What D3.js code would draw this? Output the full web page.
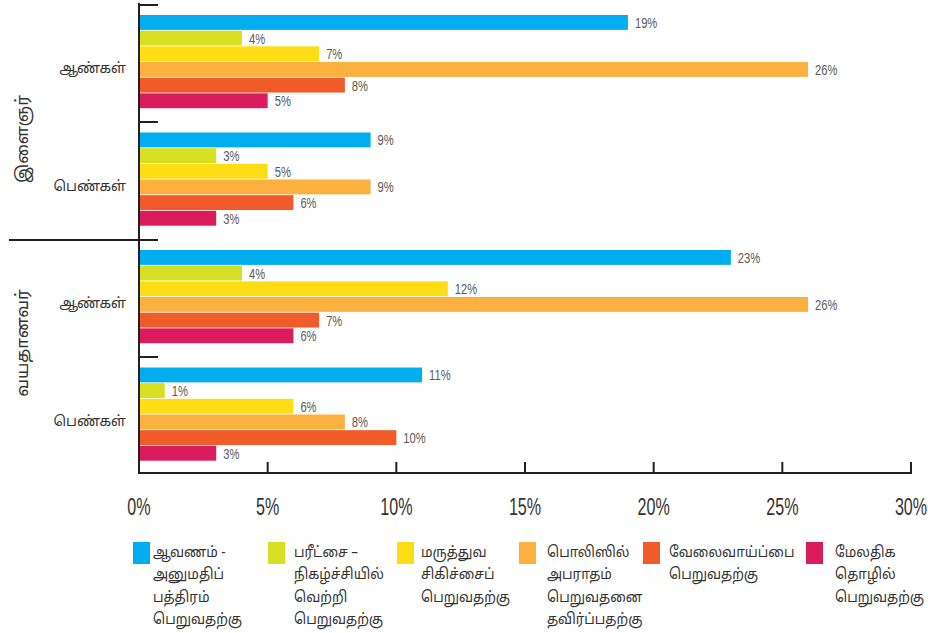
<!DOCTYPE html>
<meta charset="utf-8">
<style>
html, body { margin: 0; padding: 0; background: #fff; }
svg { display: block; }
.tamil { font-family: "Noto Sans Tamil", "Lohit Tamil", "Noto Sans", sans-serif; fill: #333; }
.num { font-family: "Liberation Sans", Arial, sans-serif; }
</style>
<svg id="chart" width="928" height="633"></svg>
<script src="https://cdn.jsdelivr.net/npm/d3@7/dist/d3.min.js"></script>
<script>
// ---- data ----
var groups = ["இளைஞர்", "வயதானவர்"];
var subgroups = ["ஆண்கள்", "பெண்கள்"];
var series = ["document", "exam", "medical", "police", "job", "extra"];
var seriesLabels = [
  ["ஆவணம் -", "அனுமதிப்", "பத்திரம்", "பெறுவதற்கு"],
  ["பரீட்சை –", "நிகழ்ச்சியில்", "வெற்றி", "பெறுவதற்கு"],
  ["மருத்துவ", "சிகிச்சைப்", "பெறுவதற்கு"],
  ["பொலிஸில்", "அபராதம்", "பெறுவதனை", "தவிர்ப்பதற்கு"],
  ["வேலைவாய்ப்பை", "பெறுவதற்கு"],
  ["மேலதிக", "தொழில்", "பெறுவதற்கு"]
];
var colors = ["#00aeef", "#d7df23", "#ffdd15", "#fbb040", "#f15a29", "#da1c5c"];
// values in %, one row per group/subgroup
var youngMen   = [19, 4, 7, 26, 8, 5];
var youngWomen = [9, 3, 5, 9, 6, 3];
var oldMen     = [23, 4, 12, 26, 7, 6];
var oldWomen   = [11, 1, 6, 8, 10, 3];
var xTicks = [0, 5, 10, 15, 20, 25, 30];

var rows = [
  { key: "g0s0", group: 0, sub: 0, values: youngMen },
  { key: "g0s1", group: 0, sub: 1, values: youngWomen },
  { key: "g1s0", group: 1, sub: 0, values: oldMen },
  { key: "g1s1", group: 1, sub: 1, values: oldWomen }
];

// ---- layout ----
var svg = d3.select("#chart");
var x = d3.scaleLinear().domain([0, 30]).range([139, 911]);
var y = d3.scaleBand().domain(rows.map(function (d) { return d.key; })).range([4.5, 474.5]);
var yInner = d3.scaleBand().domain(series).range([0, 94]);
var barOffset = 10.5;
var axisY = 473;
var ink = "#231f20";

// bars
var rowG = svg.append("g").selectAll("g").data(rows).enter().append("g")
  .attr("transform", function (d) { return "translate(0," + (y(d.key) + barOffset) + ")"; });

rowG.selectAll("rect").data(function (d) { return d.values; }).enter().append("rect")
  .attr("x", x(0))
  .attr("y", function (d, i) { return yInner(series[i]); })
  .attr("width", function (d) { return x(d) - x(0); })
  .attr("height", yInner.bandwidth() - 0.8)
  .attr("fill", function (d, i) { return colors[i]; });

rowG.selectAll("text").data(function (d) { return d.values; }).enter().append("text")
  .attr("class", "num")
  .attr("transform", function (d, i) {
    return "translate(" + (x(d) + 7) + "," + (yInner(series[i]) + yInner.bandwidth() / 2) + ")scale(0.8,1)";
  })
  .attr("dy", "0.36em")
  .attr("font-size", 14)
  .attr("fill", "#595959")
  .text(function (d) { return d + "%"; });

// subgroup labels
svg.append("g").selectAll("text").data(rows).enter().append("text")
  .attr("class", "tamil")
  .attr("x", 126)
  .attr("y", function (d) { return y(d.key) + y.bandwidth() / 2 + 10; })
  .attr("text-anchor", "end")
  .attr("font-size", 14)
  .text(function (d) { return subgroups[d.sub]; });

// group labels (rotated)
var groupOffset = [17, -14];
svg.append("g").selectAll("text").data(groups).enter().append("text")
  .attr("class", "tamil")
  .attr("text-anchor", "middle")
  .attr("font-size", 17)
  .attr("transform", function (d, i) {
    var cy = y(rows[i * 2].key) + y.bandwidth() + groupOffset[i];
    return "translate(28," + cy + ")rotate(-90)";
  })
  .text(function (d) { return d; });

// axes
var axes = svg.append("g").attr("stroke", ink).attr("stroke-width", 2).attr("fill", "none");
axes.append("line").attr("x1", x(0)).attr("x2", x(0)).attr("y1", 3).attr("y2", axisY + 1);
axes.append("line").attr("x1", x(0) - 1).attr("x2", x(30) + 1).attr("y1", axisY).attr("y2", axisY);
// left ticks at each band start
axes.selectAll(".lt").data(rows).enter().append("line")
  .attr("x1", function (d) { return d.sub === 0 && d.group > 0 ? 9 : x(0); })
  .attr("x2", 158)
  .attr("y1", function (d) { return Math.round(y(d.key)); })
  .attr("y2", function (d) { return Math.round(y(d.key)); });
// bottom ticks
axes.selectAll(".bt").data(xTicks).enter().append("line")
  .attr("x1", function (d) { return x(d); })
  .attr("x2", function (d) { return x(d); })
  .attr("y1", axisY - 11)
  .attr("y2", axisY);

svg.append("g").selectAll("text").data(xTicks).enter().append("text")
  .attr("class", "num")
  .attr("text-anchor", "middle")
  .attr("transform", function (d) { return "translate(" + x(d) + ",515)scale(0.7,1)"; })
  .attr("font-size", 23)
  .attr("fill", "#333")
  .text(function (d) { return d + "%"; });

// legend
var legendX = [133, 268, 397, 519, 643, 806];
var legendTextDx = [20, 26, 24, 28, 26, 29];
var leg = svg.append("g").selectAll("g").data(series).enter().append("g")
  .attr("transform", function (d, i) { return "translate(" + legendX[i] + ",542)"; });
leg.append("rect").attr("width", 17).attr("height", 22)
  .attr("fill", function (d, i) { return colors[i]; });
leg.append("text")
  .attr("class", "tamil")
  .attr("font-size", 15)
  .attr("transform", function (d, i) { return "translate(" + legendTextDx[i] + ",0)scale(0.9,1)"; })
  .selectAll("tspan").data(function (d, i) { return seriesLabels[i]; })
  .enter().append("tspan")
  .attr("x", 0)
  .attr("y", function (d, j) { return 15 + j * 22.5; })
  .text(function (d) { return d; });
</script>
